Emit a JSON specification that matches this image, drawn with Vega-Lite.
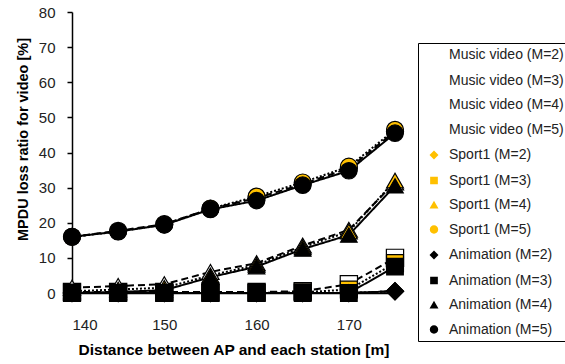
{
  "$schema": "https://vega.github.io/schema/vega-lite/v6.json",
  "width": 323,
  "height": 281,
  "autosize": {"type": "none"},
  "padding": {"left": 72, "top": 12, "right": 170, "bottom": 71},
  "background": "white",
  "config": {
    "view": {"stroke": null},
    "font": "Liberation Sans",
    "axis": {"grid": false, "domainColor": "black", "domainWidth": 1.5, "tickColor": "black", "tickWidth": 1.5, "labelColor": "#222", "titleColor": "black", "labelFont": "Liberation Sans", "titleFont": "Liberation Sans"}
  },
  "datasets": {
    "loss": [
      {"series": "Music video (M=2)", "d": 140, "v": 0}, {"series": "Music video (M=2)", "d": 145, "v": 0}, {"series": "Music video (M=2)", "d": 150, "v": 0}, {"series": "Music video (M=2)", "d": 155, "v": 0}, {"series": "Music video (M=2)", "d": 160, "v": 0}, {"series": "Music video (M=2)", "d": 165, "v": 0}, {"series": "Music video (M=2)", "d": 170, "v": 0}, {"series": "Music video (M=2)", "d": 175, "v": 0.5},
      {"series": "Music video (M=3)", "d": 140, "v": 0.3}, {"series": "Music video (M=3)", "d": 145, "v": 0.3}, {"series": "Music video (M=3)", "d": 150, "v": 0.3}, {"series": "Music video (M=3)", "d": 155, "v": 0.3}, {"series": "Music video (M=3)", "d": 160, "v": 0.3}, {"series": "Music video (M=3)", "d": 165, "v": 0.5}, {"series": "Music video (M=3)", "d": 170, "v": 2.5}, {"series": "Music video (M=3)", "d": 175, "v": 10},
      {"series": "Music video (M=4)", "d": 140, "v": 1.5}, {"series": "Music video (M=4)", "d": 145, "v": 2}, {"series": "Music video (M=4)", "d": 150, "v": 2.5}, {"series": "Music video (M=4)", "d": 155, "v": 6}, {"series": "Music video (M=4)", "d": 160, "v": 8.5}, {"series": "Music video (M=4)", "d": 165, "v": 13.5}, {"series": "Music video (M=4)", "d": 170, "v": 18}, {"series": "Music video (M=4)", "d": 175, "v": 31.5},
      {"series": "Music video (M=5)", "d": 140, "v": 16}, {"series": "Music video (M=5)", "d": 145, "v": 17.7}, {"series": "Music video (M=5)", "d": 150, "v": 19.6}, {"series": "Music video (M=5)", "d": 155, "v": 24}, {"series": "Music video (M=5)", "d": 160, "v": 27}, {"series": "Music video (M=5)", "d": 165, "v": 31}, {"series": "Music video (M=5)", "d": 170, "v": 35.5}, {"series": "Music video (M=5)", "d": 175, "v": 46},
      {"series": "Sport1 (M=2)", "d": 140, "v": 0}, {"series": "Sport1 (M=2)", "d": 145, "v": 0}, {"series": "Sport1 (M=2)", "d": 150, "v": 0}, {"series": "Sport1 (M=2)", "d": 155, "v": 0}, {"series": "Sport1 (M=2)", "d": 160, "v": 0}, {"series": "Sport1 (M=2)", "d": 165, "v": 0}, {"series": "Sport1 (M=2)", "d": 170, "v": 0}, {"series": "Sport1 (M=2)", "d": 175, "v": 0.5},
      {"series": "Sport1 (M=3)", "d": 140, "v": 0}, {"series": "Sport1 (M=3)", "d": 145, "v": 0}, {"series": "Sport1 (M=3)", "d": 150, "v": 0}, {"series": "Sport1 (M=3)", "d": 155, "v": 0}, {"series": "Sport1 (M=3)", "d": 160, "v": 0}, {"series": "Sport1 (M=3)", "d": 165, "v": 0.2}, {"series": "Sport1 (M=3)", "d": 170, "v": 1}, {"series": "Sport1 (M=3)", "d": 175, "v": 8.5},
      {"series": "Sport1 (M=4)", "d": 140, "v": 0.5}, {"series": "Sport1 (M=4)", "d": 145, "v": 1}, {"series": "Sport1 (M=4)", "d": 150, "v": 1.5}, {"series": "Sport1 (M=4)", "d": 155, "v": 5}, {"series": "Sport1 (M=4)", "d": 160, "v": 8}, {"series": "Sport1 (M=4)", "d": 165, "v": 13}, {"series": "Sport1 (M=4)", "d": 170, "v": 17.5}, {"series": "Sport1 (M=4)", "d": 175, "v": 32},
      {"series": "Sport1 (M=5)", "d": 140, "v": 16}, {"series": "Sport1 (M=5)", "d": 145, "v": 17.5}, {"series": "Sport1 (M=5)", "d": 150, "v": 19.5}, {"series": "Sport1 (M=5)", "d": 155, "v": 24}, {"series": "Sport1 (M=5)", "d": 160, "v": 27.5}, {"series": "Sport1 (M=5)", "d": 165, "v": 31.5}, {"series": "Sport1 (M=5)", "d": 170, "v": 36}, {"series": "Sport1 (M=5)", "d": 175, "v": 46.5},
      {"series": "Animation (M=2)", "d": 140, "v": 0}, {"series": "Animation (M=2)", "d": 145, "v": 0}, {"series": "Animation (M=2)", "d": 150, "v": 0}, {"series": "Animation (M=2)", "d": 155, "v": 0}, {"series": "Animation (M=2)", "d": 160, "v": 0}, {"series": "Animation (M=2)", "d": 165, "v": 0}, {"series": "Animation (M=2)", "d": 170, "v": 0}, {"series": "Animation (M=2)", "d": 175, "v": 0.5},
      {"series": "Animation (M=3)", "d": 140, "v": 0}, {"series": "Animation (M=3)", "d": 145, "v": 0}, {"series": "Animation (M=3)", "d": 150, "v": 0}, {"series": "Animation (M=3)", "d": 155, "v": 0}, {"series": "Animation (M=3)", "d": 160, "v": 0}, {"series": "Animation (M=3)", "d": 165, "v": 0}, {"series": "Animation (M=3)", "d": 170, "v": 0}, {"series": "Animation (M=3)", "d": 175, "v": 7.5},
      {"series": "Animation (M=4)", "d": 140, "v": 0}, {"series": "Animation (M=4)", "d": 145, "v": 0.3}, {"series": "Animation (M=4)", "d": 150, "v": 0.8}, {"series": "Animation (M=4)", "d": 155, "v": 4.5}, {"series": "Animation (M=4)", "d": 160, "v": 7.5}, {"series": "Animation (M=4)", "d": 165, "v": 12.5}, {"series": "Animation (M=4)", "d": 170, "v": 16.5}, {"series": "Animation (M=4)", "d": 175, "v": 30.5},
      {"series": "Animation (M=5)", "d": 140, "v": 16}, {"series": "Animation (M=5)", "d": 145, "v": 17.5}, {"series": "Animation (M=5)", "d": 150, "v": 19.4}, {"series": "Animation (M=5)", "d": 155, "v": 23.8}, {"series": "Animation (M=5)", "d": 160, "v": 26.3}, {"series": "Animation (M=5)", "d": 165, "v": 30.7}, {"series": "Animation (M=5)", "d": 170, "v": 34.8}, {"series": "Animation (M=5)", "d": 175, "v": 45.5}
    ]
  },
  "data": {"name": "loss"},
  "encoding": {
    "x": {"field": "d", "type": "quantitative", "scale": {"domain": [140, 175], "nice": false, "zero": false},
      "axis": {"values": [140, 150, 160, 170], "ticks": false, "labelPadding": 24, "labelFontSize": 15, "title": "Distance between AP and each station [m]", "titleFontSize": 15.5, "titleFontWeight": "bold", "titlePadding": 10}},
    "y": {"field": "v", "type": "quantitative", "scale": {"domain": [0, 80], "nice": false},
      "axis": {"values": [0, 10, 20, 30, 40, 50, 60, 70, 80], "tickSize": 5, "labelPadding": 12, "labelFontSize": 15, "title": "MPDU loss ratio for video [%]", "titleFontSize": 14.5, "titleFontWeight": "bold", "titlePadding": 8, "titleY": 127}}
  },
  "layer": [
    {
      "mark": {"type": "line", "color": "black", "strokeWidth": 2},
      "encoding": {
        "detail": {"field": "series"},
        "strokeDash": {"field": "series", "type": "nominal", "legend": null,
          "scale": {"domain": ["Music video (M=2)", "Music video (M=3)", "Music video (M=4)", "Music video (M=5)", "Sport1 (M=2)", "Sport1 (M=3)", "Sport1 (M=4)", "Sport1 (M=5)", "Animation (M=2)", "Animation (M=3)", "Animation (M=4)", "Animation (M=5)"],
            "range": [[7, 4], [7, 4], [7, 4], [7, 4], [2, 2], [2, 2], [2, 2], [2, 2], [1, 0], [1, 0], [1, 0], [1, 0]]}}
      }
    },
    {
      "mark": {"type": "point", "filled": true, "stroke": "black", "strokeWidth": 1.2, "opacity": 1},
      "encoding": {
        "shape": {"field": "series", "type": "nominal", "legend": null,
          "scale": {"domain": ["Music video (M=2)", "Music video (M=3)", "Music video (M=4)", "Music video (M=5)", "Sport1 (M=2)", "Sport1 (M=3)", "Sport1 (M=4)", "Sport1 (M=5)", "Animation (M=2)", "Animation (M=3)", "Animation (M=4)", "Animation (M=5)"],
            "range": ["diamond", "square", "triangle-up", "circle", "diamond", "square", "triangle-up", "circle", "diamond", "square", "triangle-up", "circle"]}},
        "fill": {"field": "series", "type": "nominal", "legend": null,
          "scale": {"domain": ["Music video (M=2)", "Music video (M=3)", "Music video (M=4)", "Music video (M=5)", "Sport1 (M=2)", "Sport1 (M=3)", "Sport1 (M=4)", "Sport1 (M=5)", "Animation (M=2)", "Animation (M=3)", "Animation (M=4)", "Animation (M=5)"],
            "range": ["white", "white", "white", "white", "#FFC000", "#FFC000", "#FFC000", "#FFC000", "black", "black", "black", "black"]}},
        "size": {"field": "series", "type": "nominal", "legend": null,
          "scale": {"domain": ["Music video (M=2)", "Music video (M=3)", "Music video (M=4)", "Music video (M=5)", "Sport1 (M=2)", "Sport1 (M=3)", "Sport1 (M=4)", "Sport1 (M=5)", "Animation (M=2)", "Animation (M=3)", "Animation (M=4)", "Animation (M=5)"],
            "range": [300, 270, 360, 290, 300, 270, 360, 290, 300, 270, 360, 290]}}
      }
    },
    {
      "transform": [{"filter": "datum.v < -1"}],
      "mark": {"type": "point", "filled": true, "stroke": "black", "strokeWidth": 1.5, "opacity": 1, "size": 196},
      "encoding": {
        "shape": {"field": "series", "type": "nominal",
          "scale": {"domain": ["Music video (M=2)", "Music video (M=3)", "Music video (M=4)", "Music video (M=5)", "Sport1 (M=2)", "Sport1 (M=3)", "Sport1 (M=4)", "Sport1 (M=5)", "Animation (M=2)", "Animation (M=3)", "Animation (M=4)", "Animation (M=5)"],
            "range": [
              "M-1.6,0H-0.64M0.64,0H1.6M0,-0.64L0.64,0L0,0.64L-0.64,0Z",
              "M-1.6,0H-0.55M0.55,0H1.6M-0.55,-0.55H0.55V0.55H-0.55Z",
              "M-1.6,0H-0.6M0.6,0H1.6M0,-0.62L0.64,0.5H-0.64Z",
              "M-1.6,0H-0.6M0.6,0H1.6M0.6,0A0.6,0.6,0,1,1,-0.6,0A0.6,0.6,0,1,1,0.6,0Z",
              "M-1.6,0H-1.4M-1.15,0H-0.95M0.95,0H1.15M1.4,0H1.6M0,-0.64L0.64,0L0,0.64L-0.64,0Z",
              "M-1.6,0H-1.4M-1.15,0H-0.95M0.95,0H1.15M1.4,0H1.6M-0.55,-0.55H0.55V0.55H-0.55Z",
              "M-1.6,0H-1.4M-1.15,0H-0.95M0.95,0H1.15M1.4,0H1.6M0,-0.62L0.64,0.5H-0.64Z",
              "M-1.6,0H-1.4M-1.15,0H-0.95M0.95,0H1.15M1.4,0H1.6M0.6,0A0.6,0.6,0,1,1,-0.6,0A0.6,0.6,0,1,1,0.6,0Z",
              "M-1.6,0H-0.64M0.64,0H1.6M0,-0.64L0.64,0L0,0.64L-0.64,0Z",
              "M-1.6,0H-0.55M0.55,0H1.6M-0.55,-0.55H0.55V0.55H-0.55Z",
              "M-1.6,0H-0.6M0.6,0H1.6M0,-0.62L0.64,0.5H-0.64Z",
              "M-1.6,0H-0.6M0.6,0H1.6M0.6,0A0.6,0.6,0,1,1,-0.6,0A0.6,0.6,0,1,1,0.6,0Z"
            ]},
          "legend": {"title": null, "orient": "none", "legendX": 346, "legendY": 31, "padding": 4, "symbolOffset": 4, "symbolSize": 196, "symbolStrokeWidth": 1.5, "symbolStrokeColor": "black", "labelFontSize": 14, "labelColor": "#222", "labelOffset": 7, "rowPadding": 9.5, "strokeColor": "black", "labelLimit": 300}},
        "fill": {"field": "series", "type": "nominal",
          "scale": {"domain": ["Music video (M=2)", "Music video (M=3)", "Music video (M=4)", "Music video (M=5)", "Sport1 (M=2)", "Sport1 (M=3)", "Sport1 (M=4)", "Sport1 (M=5)", "Animation (M=2)", "Animation (M=3)", "Animation (M=4)", "Animation (M=5)"],
            "range": ["white", "white", "white", "white", "#FFC000", "#FFC000", "#FFC000", "#FFC000", "black", "black", "black", "black"]},
          "legend": {"title": null, "orient": "none", "legendX": 346, "legendY": 31, "padding": 4, "symbolOffset": 4, "symbolSize": 196, "symbolStrokeWidth": 1.5, "symbolStrokeColor": "black", "labelFontSize": 14, "labelColor": "#222", "labelOffset": 7, "rowPadding": 9.5, "strokeColor": "black", "labelLimit": 300}}
      }
    }
  ],
  "resolve": {"scale": {"shape": "independent", "fill": "independent"}}
}
